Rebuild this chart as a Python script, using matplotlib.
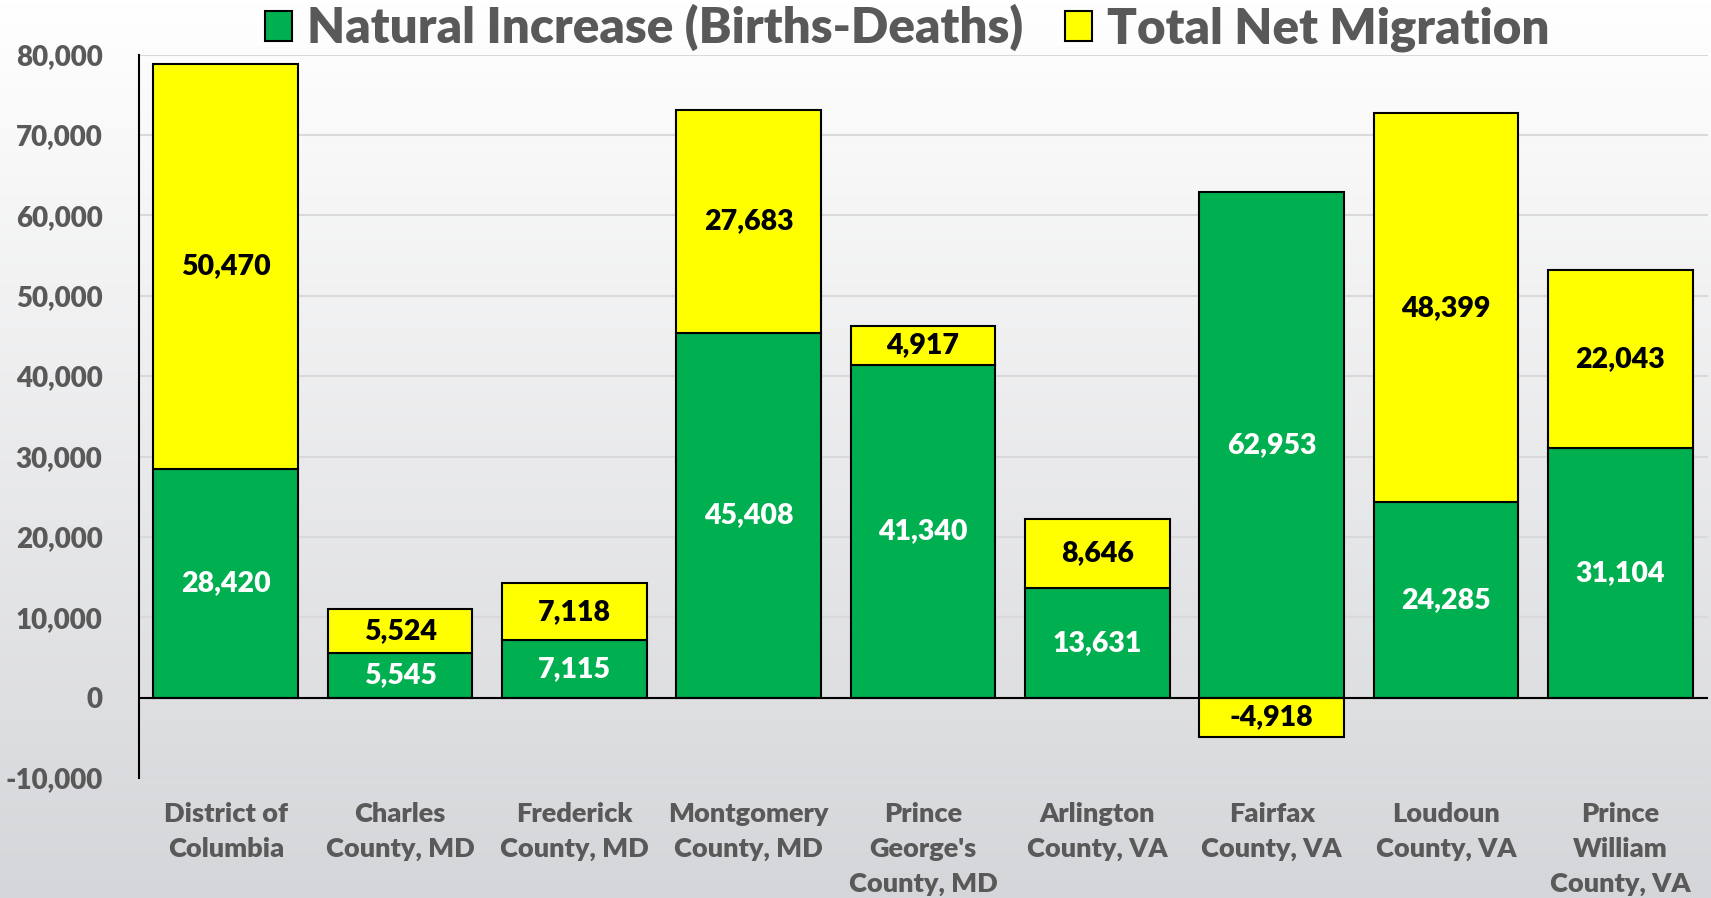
import matplotlib.pyplot as plt
import numpy as np
from matplotlib.colors import LinearSegmentedColormap
from matplotlib.patches import Patch

counties = [
    "District of\nColumbia",
    "Charles\nCounty, MD",
    "Frederick\nCounty, MD",
    "Montgomery\nCounty, MD",
    "Prince\nGeorge's\nCounty, MD",
    "Arlington\nCounty, VA",
    "Fairfax\nCounty, VA",
    "Loudoun\nCounty, VA",
    "Prince\nWilliam\nCounty, VA",
]
natural_increase = [28420, 5545, 7115, 45408, 41340, 13631, 62953, 24285, 31104]
net_migration = [50470, 5524, 7118, 27683, 4917, 8646, -4918, 48399, 22043]

GREEN = "#00b050"
YELLOW = "#ffff00"
GREY_TEXT = "#595959"
WEIGHT = "heavy"

plt.rcParams["font.family"] = ["Lato", "DejaVu Sans"]
plt.rcParams["font.weight"] = WEIGHT

fig = plt.figure(figsize=(17.11, 8.98), dpi=100)

# background gradient
bg = fig.add_axes([0, 0, 1, 1], zorder=-10)
grad = np.linspace(1.0, 0.0, 256).reshape(-1, 1)
bg.imshow(grad, aspect="auto", cmap=LinearSegmentedColormap.from_list("bg", ["#d5d6d9", "#ffffff"]),
          extent=[0, 1, 0, 1], origin="upper")
bg.axis("off")

ax = fig.add_axes([0.081, 0.1336, 0.917, 0.8056])
ax.patch.set_alpha(0)

x = np.arange(len(counties))
nat = np.array(natural_increase)
mig = np.array(net_migration)
mig_bottom = np.where(mig > 0, nat, 0)
width = 0.83

ax.bar(x, nat, width, color=GREEN, edgecolor="black", linewidth=1.5, zorder=3)
ax.bar(x, mig, width, bottom=mig_bottom, color=YELLOW, edgecolor="black",
       linewidth=1.5, zorder=3)

for xi, n, m, b in zip(x, nat, mig, mig_bottom):
    ax.text(xi, n / 2, f"{n:,}", ha="center", va="center", color="white",
            fontsize=20.5, fontweight=WEIGHT, zorder=4)
    ax.text(xi, b + m / 2, f"{m:,}", ha="center", va="center", color="black",
            fontsize=20.5, fontweight=WEIGHT, zorder=4)

ax.set_xlim(-0.5, len(counties) - 0.5)
ax.set_ylim(-10000, 80000)
ax.set_yticks(np.arange(-10000, 80001, 10000))
ax.yaxis.set_major_formatter(plt.FuncFormatter(lambda v, p: f"{int(v):,}"))
ax.grid(axis="y", color="#d9d9d9", linewidth=1.5, zorder=0)
ax.axhline(0, color="black", linewidth=1.5, zorder=3)
for s in ["top", "right", "bottom"]:
    ax.spines[s].set_visible(False)
ax.spines["left"].set_linewidth(1.5)
ax.tick_params(axis="y", length=0, pad=26, labelsize=20, labelcolor=GREY_TEXT)
ax.tick_params(axis="x", length=0, pad=17, labelsize=19.5, labelcolor=GREY_TEXT)
ax.set_xticks(x)
ax.set_xticklabels(counties, linespacing=1.56)
for lbl in ax.get_xticklabels() + ax.get_yticklabels():
    lbl.set_fontweight(WEIGHT)

handles = [
    Patch(facecolor=GREEN, edgecolor="black", linewidth=1.5, label="Natural Increase (Births-Deaths)"),
    Patch(facecolor=YELLOW, edgecolor="black", linewidth=1.5, label="Total Net Migration"),
]
leg = fig.legend(handles=handles, loc="center", bbox_to_anchor=(0.53, 0.969), ncol=2,
                 frameon=False, fontsize=35.5, handlelength=0.55, handleheight=0.55,
                 handletextpad=0.3, columnspacing=0.85, borderaxespad=0)
for t in leg.get_texts():
    t.set_color(GREY_TEXT)
    t.set_fontweight(WEIGHT)

fig.savefig("out.png", dpi=100)
